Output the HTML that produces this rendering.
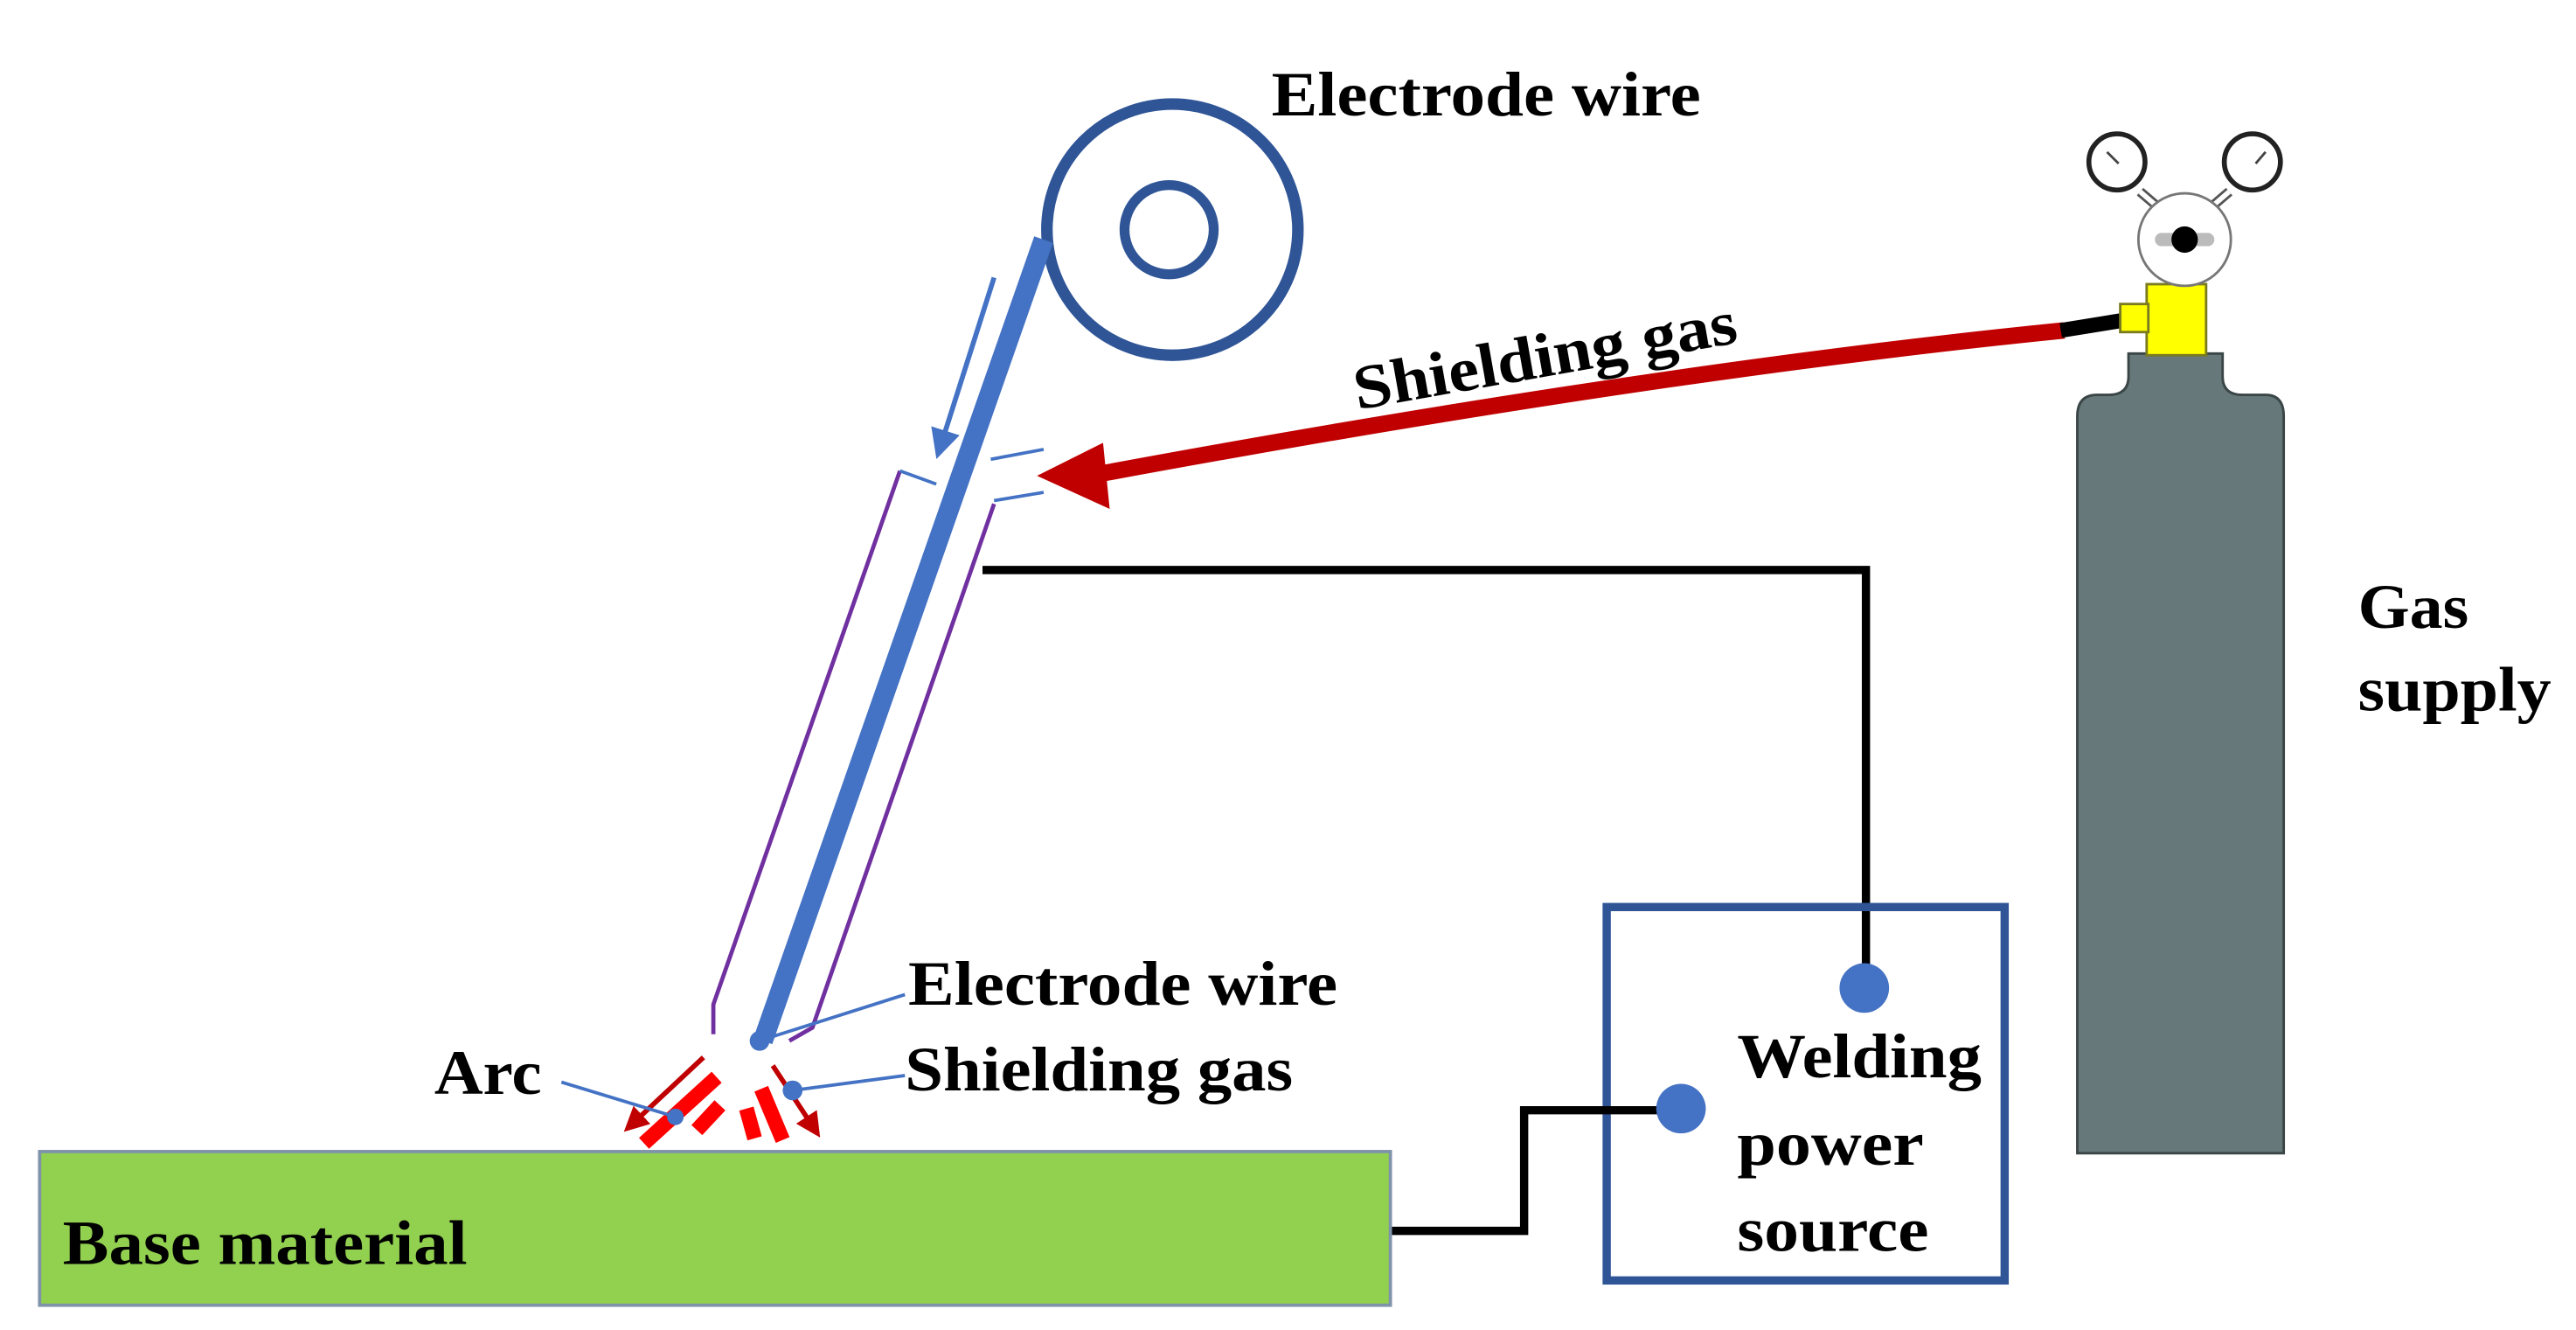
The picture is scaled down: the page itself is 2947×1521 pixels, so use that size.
<!DOCTYPE html>
<html><head><meta charset="utf-8"><style>
html,body{margin:0;padding:0;background:#fff;}
svg{display:block;}
text{font-family:"Liberation Serif",serif;font-weight:bold;fill:#000;}
</style></head><body>
<svg width="2947" height="1521" viewBox="0 0 1560 805" preserveAspectRatio="none" xmlns="http://www.w3.org/2000/svg">
<defs>
<marker id="ab" markerWidth="6" markerHeight="6" refX="5" refY="3" orient="auto" markerUnits="strokeWidth"><path d="M0,0 L6,3 L0,6 z" fill="#4472C4"/></marker>
<marker id="ar" markerWidth="5" markerHeight="5" refX="4" refY="2.5" orient="auto" markerUnits="strokeWidth"><path d="M0,0 L5,2.5 L0,5 z" fill="#C00000"/></marker>
</defs>
<!-- spool -->
<circle cx="710" cy="139" r="76" fill="none" stroke="#2F5597" stroke-width="7"/>
<circle cx="708" cy="139" r="27" fill="none" stroke="#2F5597" stroke-width="6"/>
<text x="770" y="70" font-size="38" textLength="260" lengthAdjust="spacingAndGlyphs">Electrode wire</text>
<!-- torch -->
<polyline points="545,285 432,608 432,626" fill="none" stroke="#7030A0" stroke-width="2.5"/>
<polyline points="602,305 492,622 478,630" fill="none" stroke="#7030A0" stroke-width="2.5"/>
<line x1="545" y1="285" x2="567" y2="293" stroke="#4472C4" stroke-width="2"/>
<line x1="600" y1="278" x2="632" y2="272" stroke="#4472C4" stroke-width="2"/>
<line x1="602" y1="303" x2="632" y2="298" stroke="#4472C4" stroke-width="2"/>
<line x1="632" y1="145" x2="462" y2="630" stroke="#4472C4" stroke-width="12"/>
<circle cx="460" cy="630" r="6" fill="#4472C4"/>
<line x1="602" y1="168" x2="568" y2="275" stroke="#4472C4" stroke-width="3" marker-end="url(#ab)"/>
<!-- gas hose -->
<path d="M1250,200 Q1000,225 665,287" fill="none" stroke="#C00000" stroke-width="10"/>
<path d="M628,288 L668,268 L672,308 z" fill="#C00000"/>
<line x1="1248" y1="200" x2="1285" y2="194" stroke="#000" stroke-width="9"/>
<text x="0" y="0" font-size="38" textLength="235" lengthAdjust="spacingAndGlyphs" transform="translate(822,248) rotate(-10)">Shielding gas</text>
<!-- cylinder -->
<path d="M1289,214 L1346,214 L1346,228 Q1346,239 1358,239 L1372,239 Q1383,239 1383,252 L1383,698 L1258,698 L1258,252 Q1258,239 1270,239 L1277,239 Q1289,239 1289,228 z" fill="#67787A" stroke="#3a4546" stroke-width="1.5"/>
<rect x="1300" y="172" width="36" height="43" fill="#FFFF00" stroke="#7a7a20" stroke-width="1.5"/>
<rect x="1284" y="184" width="17" height="17" fill="#FFFF00" stroke="#7a7a20" stroke-width="1.5"/>
<line x1="1296" y1="116" x2="1310" y2="128" stroke="#555" stroke-width="6"/>
<line x1="1296" y1="116" x2="1310" y2="128" stroke="#fff" stroke-width="3"/>
<line x1="1350" y1="116" x2="1336" y2="128" stroke="#555" stroke-width="6"/>
<line x1="1350" y1="116" x2="1336" y2="128" stroke="#fff" stroke-width="3"/>
<circle cx="1323" cy="145" r="28" fill="#fff" stroke="#777" stroke-width="1.5"/>
<rect x="1305" y="141" width="36" height="8" rx="4" fill="#bbb"/>
<circle cx="1323" cy="145" r="8" fill="#000"/>
<circle cx="1282" cy="98" r="17" fill="#fff" stroke="#222" stroke-width="3"/>
<line x1="1276" y1="92" x2="1283" y2="99" stroke="#444" stroke-width="1.5"/>
<circle cx="1364" cy="98" r="17" fill="#fff" stroke="#222" stroke-width="3"/>
<line x1="1372" y1="92" x2="1366" y2="99" stroke="#444" stroke-width="1.5"/>
<text x="1428" y="380" font-size="38" textLength="67" lengthAdjust="spacingAndGlyphs">Gas</text>
<text x="1428" y="430" font-size="38" textLength="117" lengthAdjust="spacingAndGlyphs">supply</text>
<!-- power -->
<polyline points="595,345 1130,345 1130,597" fill="none" stroke="#000" stroke-width="5"/>
<rect x="973" y="549" width="241" height="226" fill="none" stroke="#2F5597" stroke-width="5"/>
<circle cx="1129" cy="598" r="15" fill="#4472C4"/>
<polyline points="843,745 923,745 923,672 1018,672" fill="none" stroke="#000" stroke-width="5"/>
<circle cx="1018" cy="671" r="15" fill="#4472C4"/>
<text x="1052" y="652" font-size="38" textLength="148" lengthAdjust="spacingAndGlyphs">Welding</text>
<text x="1052" y="705" font-size="38" textLength="113" lengthAdjust="spacingAndGlyphs">power</text>
<text x="1052" y="757" font-size="38" textLength="116" lengthAdjust="spacingAndGlyphs">source</text>
<!-- base -->
<rect x="24" y="697" width="818" height="93" fill="#92D050" stroke="#7f94aa" stroke-width="2"/>
<text x="38" y="765" font-size="38" textLength="245" lengthAdjust="spacingAndGlyphs">Base material</text>
<!-- arc -->
<line x1="426" y1="640" x2="380" y2="683" stroke="#C00000" stroke-width="3" marker-end="url(#ar)"/>
<line x1="468" y1="645" x2="495" y2="686" stroke="#C00000" stroke-width="3" marker-end="url(#ar)"/>
<g stroke="#FF0000" stroke-width="9">
<line x1="434" y1="652" x2="390" y2="692"/>
<line x1="436" y1="669" x2="422" y2="684"/>
<line x1="452" y1="671" x2="457" y2="689"/>
<line x1="461" y1="659" x2="474" y2="690"/>
</g>
<line x1="340" y1="655" x2="409" y2="676" stroke="#4472C4" stroke-width="2"/>
<circle cx="409" cy="676" r="5" fill="#4472C4"/>
<line x1="548" y1="651" x2="480" y2="660" stroke="#4472C4" stroke-width="2"/>
<circle cx="480" cy="660" r="6" fill="#4472C4"/>
<line x1="548" y1="602" x2="466" y2="628" stroke="#4472C4" stroke-width="2"/>
<text x="263" y="662" font-size="38" textLength="65" lengthAdjust="spacingAndGlyphs">Arc</text>
<text x="550" y="608" font-size="38" textLength="260" lengthAdjust="spacingAndGlyphs">Electrode wire</text>
<text x="548" y="660" font-size="38" textLength="235" lengthAdjust="spacingAndGlyphs">Shielding gas</text>
</svg>
</body></html>
